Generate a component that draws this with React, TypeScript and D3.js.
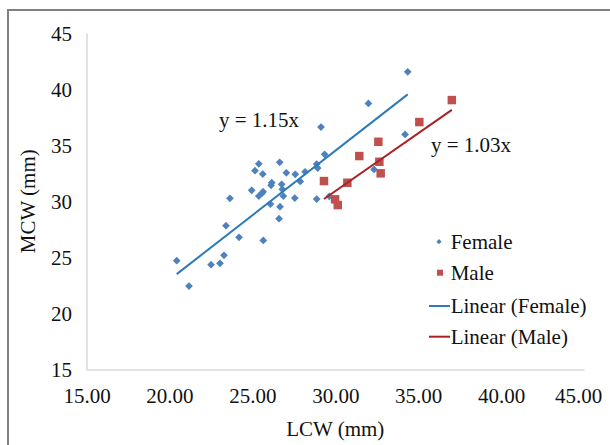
import * as d3 from "d3";
import { useEffect, useRef } from "react";

// female points: LCW (x), MCW (y)
const femaleLCW = [
  20.44, 21.18, 22.51, 23.05, 23.29, 23.41, 23.65, 24.2, 25.66, 24.96,
  25.16, 25.39, 25.63, 25.39, 25.57, 25.65, 26.09, 26.13, 26.17, 26.65,
  26.61, 26.67, 26.77, 26.81, 26.87, 27.05, 27.56, 27.59, 27.89, 28.18,
  28.88, 28.94, 28.88, 29.36, 29.14, 29.64, 32.0, 34.37, 34.21, 32.34,
];
const femaleMCW = [
  24.7, 22.44, 24.34, 24.47, 25.18, 27.82, 30.26, 26.78, 26.51, 30.97,
  32.72, 33.34, 32.42, 30.46, 30.7, 30.85, 29.75, 31.42, 31.65, 33.47,
  28.44, 29.51, 31.51, 31.06, 30.46, 32.54, 30.28, 32.4, 31.77, 32.63,
  33.32, 32.96, 30.2, 34.18, 36.61, 30.44, 38.72, 41.54, 35.96, 32.84,
];

// male points
const maleLCW = [29.32, 29.99, 30.15, 30.73, 31.45, 32.6, 32.66, 32.74, 35.07, 37.03];
const maleMCW = [31.8, 30.17, 29.66, 31.65, 34.03, 35.3, 33.52, 32.49, 37.06, 39.02];

// trend slopes (forced through origin)
const femaleSlope = 1.15;
const maleSlope = 1.03;

const xTicks = [15, 20, 25, 30, 35, 40, 45];
const yTicks = [15, 20, 25, 30, 35, 40, 45];

const legendLabels = ["Female", "Male", "Linear (Female)", "Linear (Male)"];

const width = 610;
const height = 445;
const font = "Liberation Serif, serif";
const blue = "#4F81BD";
const red = "#C0504D";
const blueLine = "#2B7BBA";
const redLine = "#A82226";

export default function App() {
  const xAxisRef = useRef<SVGGElement>(null);
  const yAxisRef = useRef<SVGGElement>(null);

  const x = d3.scaleLinear([15, 45], [86.5, 584]);
  const y = d3.scaleLinear([15, 45], [369.5, 33]);

  const female = femaleLCW.map((v, i) => ({ x: v, y: femaleMCW[i] }));
  const male = maleLCW.map((v, i) => ({ x: v, y: maleMCW[i] }));

  const fx = d3.extent(femaleLCW) as [number, number];
  const mx = d3.extent(maleLCW) as [number, number];
  const line = d3.line<number[]>().x(d => x(d[0])).y(d => y(d[1]));

  const diamond = d3.symbol(d3.symbolSquare, 30)();
  const diamondSmall = d3.symbol(d3.symbolSquare, 14)();
  const square = d3.symbol(d3.symbolSquare, 72)();
  const squareSmall = d3.symbol(d3.symbolSquare, 36)();

  useEffect(() => {
    const xa = d3.select(xAxisRef.current!)
      .call(d3.axisBottom(x).tickValues(xTicks).tickFormat(d3.format(".2f")).tickSize(0).tickSizeOuter(0));
    xa.attr("font-family", null).attr("font-size", null);
    xa.select(".domain").attr("stroke", "#D9D9D9").attr("stroke-width", 1.5);
    xa.selectAll("text")
      .attr("y", 26.5).attr("dy", "0.35em").attr("fill", "#111")
      .attr("x", (d: any) => (d === 45 ? -6 : 0))
      .style("font-size", "21px").style("font-family", font);

    const ya = d3.select(yAxisRef.current!)
      .call(d3.axisLeft(y).tickValues(yTicks).tickSize(0).tickSizeOuter(0));
    ya.attr("font-family", null).attr("font-size", null);
    ya.select(".domain").attr("stroke", "#D9D9D9").attr("stroke-width", 1.5);
    ya.selectAll("text")
      .attr("x", -14.5).attr("dy", "0.35em").attr("fill", "#111")
      .style("font-size", "21px").style("font-family", font);
  }, []);

  const legendY = [241.7, 272.7, 306, 336.7];
  const textStyle = { fontFamily: font, fontSize: "21px" };

  return (
    <div style={{ position: "absolute", left: 0, top: 0 }}>
      <svg width={width} height={height} style={{ display: "block", background: "#fff" }}>
        <rect x={8} y={10} width={620} height={460} fill="#fff" stroke="#808080" strokeWidth={2} />
        <g ref={yAxisRef} transform={`translate(${x(15)},0)`} />
        <g ref={xAxisRef} transform={`translate(0,${y(15)})`} />

        <g fill={blue}>
          {female.map((d, i) => (
            <path key={i} d={diamond!} transform={`translate(${x(d.x)},${y(d.y)}) rotate(45)`} />
          ))}
        </g>
        <g fill={red}>
          {male.map((d, i) => (
            <path key={i} d={square!} transform={`translate(${x(d.x)},${y(d.y)})`} />
          ))}
        </g>

        <path d={line([[fx[0], fx[0] * femaleSlope], [fx[1], fx[1] * femaleSlope]])!} stroke={blueLine} strokeWidth={2} fill="none" />
        <path d={line([[mx[0], mx[0] * maleSlope], [mx[1], mx[1] * maleSlope]])!} stroke={redLine} strokeWidth={2} fill="none" />

        <g style={textStyle} fill="#111">
          <text x={219} y={127}>y = {femaleSlope.toFixed(2)}x</text>
          <text x={431} y={152}>y = {maleSlope.toFixed(2)}x</text>
          <text x={x(30)} y={429} dy="0.35em" textAnchor="middle">LCW (mm)</text>
          <text transform={`translate(28,${(y(15) + y(45)) / 2}) rotate(-90)`} dy="0.35em" textAnchor="middle">MCW (mm)</text>
        </g>

        <g style={textStyle} fill="#111">
          <path d={diamondSmall!} fill={blue} transform={`translate(439,${legendY[0]}) rotate(45)`} />
          <path d={squareSmall!} fill={red} transform={`translate(440,${legendY[1]})`} />
          <line x1={429} x2={450} y1={legendY[2]} y2={legendY[2]} stroke={blueLine} strokeWidth={2} />
          <line x1={429} x2={450} y1={legendY[3]} y2={legendY[3]} stroke={redLine} strokeWidth={2} />
          {legendLabels.map((t, i) => (
            <text key={t} x={450.7} y={legendY[i]} dy="0.35em">{t}</text>
          ))}
        </g>
      </svg>
    </div>
  );
}
